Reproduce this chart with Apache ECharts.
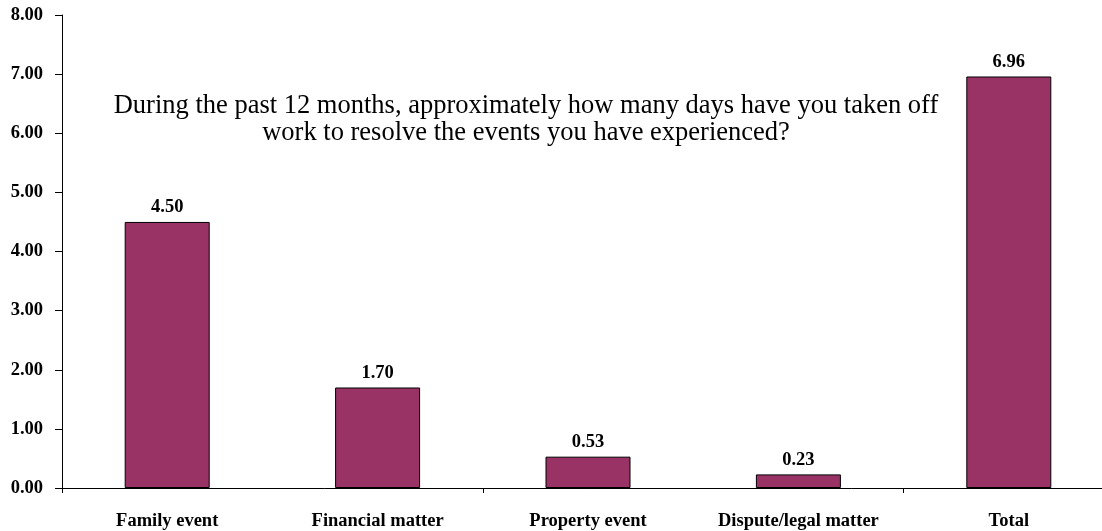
<!DOCTYPE html>
<html>
<head>
<meta charset="utf-8">
<script src="https://cdn.jsdelivr.net/npm/echarts@6/dist/echarts.min.js"></script>
<style>html,body{margin:0;padding:0;background:#fff;overflow:hidden;width:1102px;height:531px}#c{width:1114px;height:531px}</style>
</head>
<body>
<div id="c"></div>
<script>
const categories = ['Family event', 'Financial matter', 'Property event', 'Dispute/legal matter', 'Total'];
const values = [4.50, 1.70, 0.53, 0.23, 6.96];
const titleLines = ['During the past 12 months, approximately how many days have you taken off', 'work to resolve the events you have experienced?'];

const chart = echarts.init(document.getElementById('c'));
const serif = '"Liberation Serif", "Times New Roman", serif';
chart.setOption({
  animation: false,
  title: {
    text: titleLines.join('\n'),
    left: 521, top: 88, textAlign: 'center',
    textStyle: { fontFamily: serif, fontWeight: 'normal', fontSize: 26.5, color: '#000', lineHeight: 27 }
  },
  grid: { left: 62, top: 15, bottom: 43, right: 0, containLabel: false },
  xAxis: {
    type: 'category', data: categories,
    axisLine: { lineStyle: { color: '#000', width: 1 } },
    axisTick: { show: true, interval: 1, length: 5, lineStyle: { color: '#000' } },
    axisLabel: { interval: 0, margin: 24, color: '#000', fontFamily: serif, fontWeight: 'bold', fontSize: 18.5 }
  },
  yAxis: {
    type: 'value', min: 0, max: 8, interval: 1,
    splitLine: { show: false },
    axisLine: { show: true, lineStyle: { color: '#000', width: 1 } },
    axisTick: { show: true, length: 7, lineStyle: { color: '#000' } },
    axisLabel: { margin: 19, color: '#000', fontFamily: serif, fontWeight: 'bold', fontSize: 18.5, formatter: v => v.toFixed(2) }
  },
  series: [{
    type: 'bar', data: values, barWidth: 85,
    itemStyle: { color: '#993366', borderColor: '#000', borderWidth: 1 },
    label: { show: true, position: 'top', distance: 5, color: '#000', fontFamily: serif, fontWeight: 'bold', fontSize: 18.5, formatter: p => p.value.toFixed(2) }
  }]
});
</script>
</body>
</html>
